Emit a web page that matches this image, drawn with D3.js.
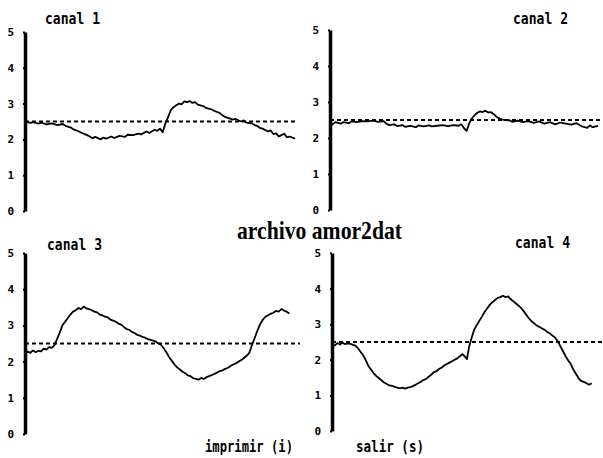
<!DOCTYPE html>
<html>
  <script src="https://cdn.jsdelivr.net/npm/d3@7/dist/d3.min.js" charset="utf-8"></script>
  <style>
    body{ margin: 0; background: #fff; }
    text{ fill: #000; }
    .lbl{ font-family: "DejaVu Sans Mono", monospace; font-weight: bold; font-size: 15px; }
    .tick text{ font-family: "DejaVu Sans Mono", monospace; font-weight: bold; font-size: 11px; }
  </style>
  <body>
    <script>

// channel traces: [time %, volts]
var canal1 = [[0,2.50],[2,2.46],[3,2.48],[5,2.44],[6,2.47],[8,2.42],[10,2.45],[12,2.40],[14,2.43],[15,2.38],[17,2.33],[18,2.28],[20,2.22],[21,2.18],[23,2.12],[24,2.08],[25,2.03],[26,2.07],[28,2.00],[29,2.05],[30,2.02],[32,2.08],[33,2.04],[35,2.10],[37,2.07],[38,2.13],[40,2.12],[42,2.16],[43,2.14],[45,2.22],[46,2.18],[48,2.27],[49,2.24],[50,2.30],[51,2.20],[52,2.45],[53,2.62],[54,2.82],[55,2.90],[57,3.00],[58,2.98],[59,3.06],[60,3.04],[61,3.07],[62,3.02],[63,3.04],[64,2.97],[66,2.93],[67,2.88],[69,2.84],[70,2.80],[72,2.74],[73,2.68],[74,2.63],[76,2.58],[77,2.55],[78,2.57],[80,2.50],[81,2.53],[82,2.47],[84,2.45],[85,2.40],[86,2.38],[87,2.32],[88,2.30],[90,2.22],[91,2.25],[92,2.15],[93,2.17],[94,2.08],[95,2.12],[96,2.16],[97,2.06],[98,2.08],[100,2.02]]

var canal2 = [[0,2.45],[1,2.38],[2,2.44],[4,2.40],[5,2.44],[7,2.41],[8,2.46],[10,2.44],[12,2.47],[14,2.46],[16,2.48],[18,2.45],[20,2.47],[21,2.40],[22,2.36],[24,2.38],[25,2.33],[27,2.36],[28,2.31],[30,2.34],[32,2.30],[33,2.35],[35,2.32],[37,2.35],[38,2.32],[40,2.34],[42,2.36],[44,2.33],[46,2.36],[48,2.34],[49,2.38],[50,2.27],[51,2.20],[52,2.42],[53,2.55],[54,2.64],[55,2.70],[56,2.74],[57,2.72],[58,2.76],[59,2.71],[60,2.72],[61,2.67],[62,2.60],[63,2.55],[64,2.52],[65,2.50],[67,2.49],[68,2.45],[70,2.48],[72,2.44],[74,2.47],[76,2.42],[78,2.46],[80,2.40],[82,2.44],[84,2.38],[86,2.43],[88,2.40],[90,2.37],[92,2.41],[94,2.32],[96,2.28],[97,2.35],[98,2.30],[100,2.34]]

var canal3 = [[0,2.20],[1,2.28],[2,2.24],[3,2.31],[4,2.26],[5,2.30],[6,2.28],[7,2.36],[8,2.33],[9,2.40],[10,2.38],[11,2.45],[12,2.62],[13,2.80],[14,3.00],[15,3.10],[16,3.20],[17,3.30],[18,3.38],[19,3.42],[20,3.48],[21,3.45],[22,3.52],[23,3.47],[24,3.45],[25,3.42],[26,3.38],[27,3.36],[28,3.30],[29,3.28],[30,3.24],[31,3.22],[32,3.16],[33,3.13],[34,3.10],[35,3.05],[36,3.02],[37,2.96],[38,2.90],[39,2.88],[40,2.82],[41,2.79],[42,2.74],[43,2.72],[44,2.68],[45,2.66],[46,2.62],[47,2.60],[48,2.58],[49,2.55],[50,2.50],[51,2.46],[52,2.36],[53,2.25],[54,2.12],[55,2.02],[56,1.92],[57,1.84],[58,1.78],[59,1.72],[60,1.68],[61,1.62],[62,1.60],[63,1.54],[64,1.52],[65,1.50],[66,1.55],[67,1.52],[68,1.57],[69,1.60],[70,1.63],[71,1.66],[72,1.70],[73,1.74],[74,1.76],[75,1.80],[76,1.83],[77,1.88],[78,1.92],[79,1.95],[80,2.00],[81,2.04],[82,2.10],[83,2.16],[84,2.24],[85,2.45],[86,2.65],[87,2.85],[88,3.02],[89,3.15],[90,3.24],[91,3.28],[92,3.32],[93,3.35],[94,3.40],[95,3.38],[96,3.45],[97,3.41],[98,3.38],[99,3.33]]

var canal4 = [[0,2.45],[1,2.40],[2,2.47],[3,2.43],[4,2.48],[5,2.44],[6,2.46],[7,2.45],[8,2.42],[9,2.40],[10,2.32],[11,2.22],[12,2.12],[13,1.98],[14,1.82],[15,1.72],[16,1.62],[17,1.54],[18,1.48],[19,1.42],[20,1.36],[21,1.32],[22,1.28],[23,1.27],[24,1.24],[25,1.22],[26,1.20],[27,1.22],[28,1.19],[29,1.22],[30,1.23],[31,1.26],[32,1.30],[33,1.34],[34,1.38],[35,1.43],[36,1.46],[37,1.52],[38,1.58],[39,1.65],[40,1.68],[41,1.74],[42,1.78],[43,1.84],[44,1.88],[45,1.92],[46,1.96],[47,2.00],[48,2.04],[49,2.10],[50,2.16],[51,2.08],[51.7,2.02],[52.5,2.35],[53.5,2.62],[54.5,2.85],[55.5,2.98],[56.5,3.10],[57.5,3.22],[58.5,3.35],[59.5,3.45],[60.5,3.55],[61.5,3.62],[62.5,3.68],[63.5,3.74],[64.5,3.76],[65.5,3.80],[66.5,3.76],[67.5,3.78],[68.5,3.70],[69.5,3.64],[70.5,3.58],[71.5,3.52],[72.5,3.45],[73.5,3.36],[74.5,3.26],[75.5,3.16],[76.5,3.08],[77.5,3.02],[78.5,2.96],[79.5,2.92],[80.5,2.88],[81.5,2.84],[82.5,2.78],[83.5,2.74],[84.5,2.68],[85.5,2.62],[86.5,2.52],[87.5,2.38],[88.5,2.24],[89.5,2.10],[90.5,1.98],[91.5,1.88],[92.5,1.72],[93.5,1.60],[94.5,1.48],[95.5,1.40],[96.5,1.38],[97.5,1.34],[98.5,1.30],[99.5,1.34]]

var channels = ['canal 1', 'canal 2', 'canal 3', 'canal 4']
var yTicks = [0, 1, 2, 3, 4, 5]
var refLevel = [2.5]
var fileName = 'archivo amor2dat'
var menu = ['imprimir (i)', 'salir (s)']

// panel layout (pixels)
var panels = [
  {data: canal1, x0: 25,  x1: 295, dash: 297, top: 32,  bot: 211, tx: 45,  ty: 24},
  {data: canal2, x0: 330, x1: 598, dash: 603, top: 30,  bot: 210, tx: 513, ty: 24},
  {data: canal3, x0: 25,  x1: 292, dash: 300, top: 253, bot: 434, tx: 47,  ty: 250},
  {data: canal4, x0: 332, x1: 593, dash: 603, top: 253, bot: 431, tx: 515, ty: 248}
]

var svg = d3.select('body').append('svg').attr('width', 603).attr('height', 458)

panels.forEach(function(p, i){
  var x = d3.scaleLinear().domain([0, 100]).range([p.x0, p.x1])
    , y = d3.scaleLinear().domain([0, 5]).range([p.bot, p.top])
    , g = svg.append('g')

  // reference level, dashed
  g.selectAll('line.ref').data(refLevel).enter().append('line')
    .attr('x1', p.x0).attr('x2', p.dash)
    .attr('y1', y).attr('y2', y)
    .attr('stroke', '#000').attr('stroke-width', 2).attr('stroke-dasharray', '4,3')

  g.append('path').datum(p.data)
    .attr('fill', 'none').attr('stroke', '#000').attr('stroke-width', 1.8)
    .attr('stroke-linejoin', 'round')
    .attr('d', d3.line().x(function(d){ return x(d[0]) }).y(function(d){ return y(d[1]) }))

  var ax = g.append('g').attr('transform', 'translate(' + p.x0 + ',0)')
    .call(d3.axisLeft(y).tickValues(yTicks).tickFormat(d3.format('d')).tickSizeInner(2).tickSizeOuter(0).tickPadding(9))
  ax.select('.domain').attr('stroke-width', 3.5)
  ax.selectAll('.tick line').attr('stroke-width', 2)

  g.append('text').attr('class', 'lbl').attr('x', p.tx).attr('y', p.ty)
    .attr('textLength', 55).attr('lengthAdjust', 'spacingAndGlyphs')
    .text(channels[i])
})

svg.append('text').attr('x', 237).attr('y', 239)
  .attr('textLength', 165).attr('lengthAdjust', 'spacingAndGlyphs')
  .style('font-family', '"Liberation Serif", serif').style('font-weight', 'bold').style('font-size', '25px')
  .text(fileName)

svg.append('text').attr('class', 'lbl').attr('x', 205).attr('y', 452)
  .attr('textLength', 88).attr('lengthAdjust', 'spacingAndGlyphs').text(menu[0])
svg.append('text').attr('class', 'lbl').attr('x', 356).attr('y', 452)
  .attr('textLength', 68).attr('lengthAdjust', 'spacingAndGlyphs').text(menu[1])

    </script>
  </body>
</html>
